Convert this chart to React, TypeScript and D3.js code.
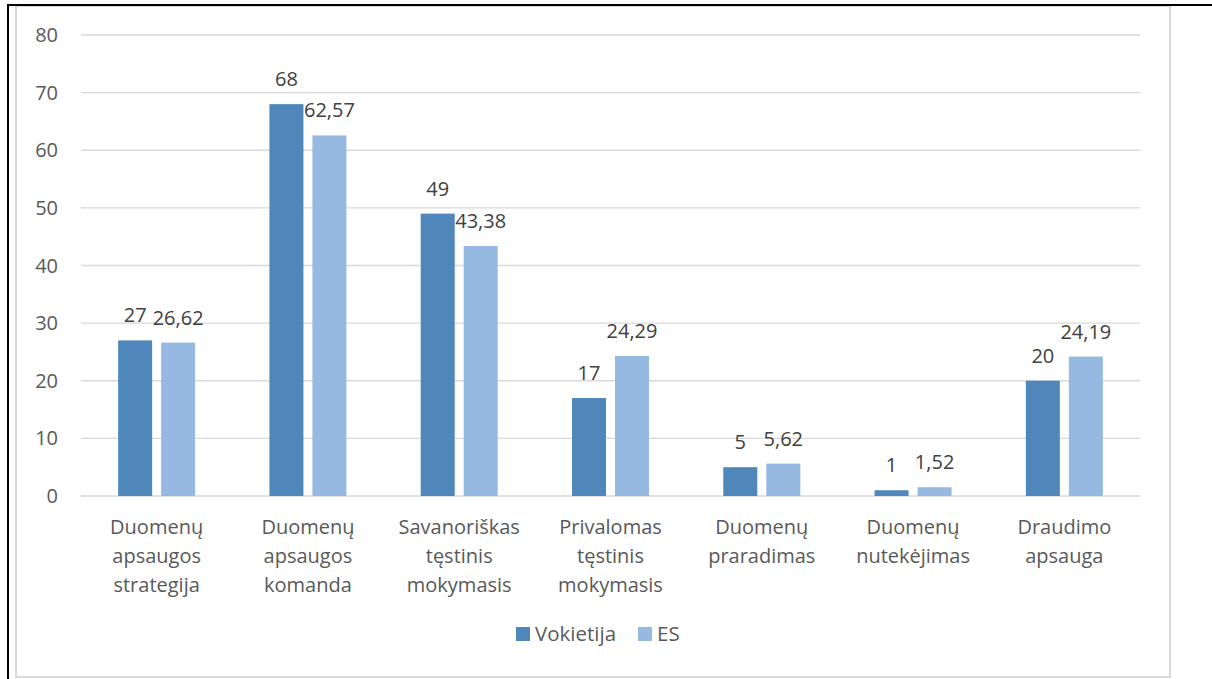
import React from "react";
import * as d3 from "d3";

const categories: string[][] = [
  ["Duomenų", "apsaugos", "strategija"],
  ["Duomenų", "apsaugos", "komanda"],
  ["Savanoriškas", "tęstinis", "mokymasis"],
  ["Privalomas", "tęstinis", "mokymasis"],
  ["Duomenų", "praradimas"],
  ["Duomenų", "nutekėjimas"],
  ["Draudimo", "apsauga"],
];
const vokietija: number[] = [27, 68, 49, 17, 5, 1, 20];
const es: number[] = [26.62, 62.57, 43.38, 24.29, 5.62, 1.52, 24.19];
const seriesNames = ["Vokietija", "ES"];
const yTicks: number[] = [0, 10, 20, 30, 40, 50, 60, 70, 80];

const colors = ["#4f87ba", "#95b9e0"];
const FONT = "'Open Sans', Lato, sans-serif";

const fmt = (v: number) => String(v).replace(".", ",");

export default function App() {
  const W = 1212, H = 679;
  const x0 = 81, x1 = 1140;
  const y = d3.scaleLinear().domain([0, 80]).range([496, 35]);
  const x = d3.scaleBand<number>().domain(categories.map((_, i) => i)).range([x0, x1]).paddingInner(0).paddingOuter(0);
  const barW = 34, gap = 9;
  const series = [vokietija, es];

  return (
    <svg width={W} height={H} style={{ position: "absolute", left: 0, top: 0, background: "#fff" }} fontFamily={FONT}>
      <rect x={16} y={6} width={1154} height={671} fill="#fff" stroke="#d9d9d9" strokeWidth={2} />
      <line x1={7} y1={5} x2={1212} y2={5} stroke="#000" strokeWidth={2} />
      <line x1={8} y1={4} x2={8} y2={679} stroke="#000" strokeWidth={2} />
      {yTicks.map((t) => (
        <g key={t}>
          <line x1={x0} x2={x1} y1={y(t)} y2={y(t)} stroke="#d9d9d9" strokeWidth={1.3} />
          <text x={58} y={y(t)} dy="0.35em" textAnchor="end" fontSize={20} fill="#595959">{t}</text>
        </g>
      ))}
      {categories.map((lines, i) => {
        const cx = (x(i) as number) + x.bandwidth() / 2;
        return (
          <g key={i}>
            {series.map((s, k) => {
              const bx = k === 0 ? cx - gap / 2 - barW : cx + gap / 2;
              const top = y(s[i]);
              return (
                <g key={k}>
                  <rect x={bx} y={top} width={barW} height={y(0) - top} fill={colors[k]} />
                  <text x={bx + barW / 2} y={top - 18} textAnchor="middle" fontSize={20} fill="#404040">{fmt(s[i])}</text>
                </g>
              );
            })}
            {lines.map((ln, j) => (
              <text key={j} x={cx} y={534 + j * 29} textAnchor="middle" fontSize={20} fill="#595959">{ln}</text>
            ))}
          </g>
        );
      })}
      <g>
        <rect x={516} y={627} width={14} height={14} fill={colors[0]} />
        <text x={535} y={641} fontSize={20.5} fill="#595959">{seriesNames[0]}</text>
        <rect x={638} y={627} width={14} height={14} fill={colors[1]} />
        <text x={657} y={641} fontSize={20.5} fill="#595959">{seriesNames[1]}</text>
      </g>
    </svg>
  );
}
